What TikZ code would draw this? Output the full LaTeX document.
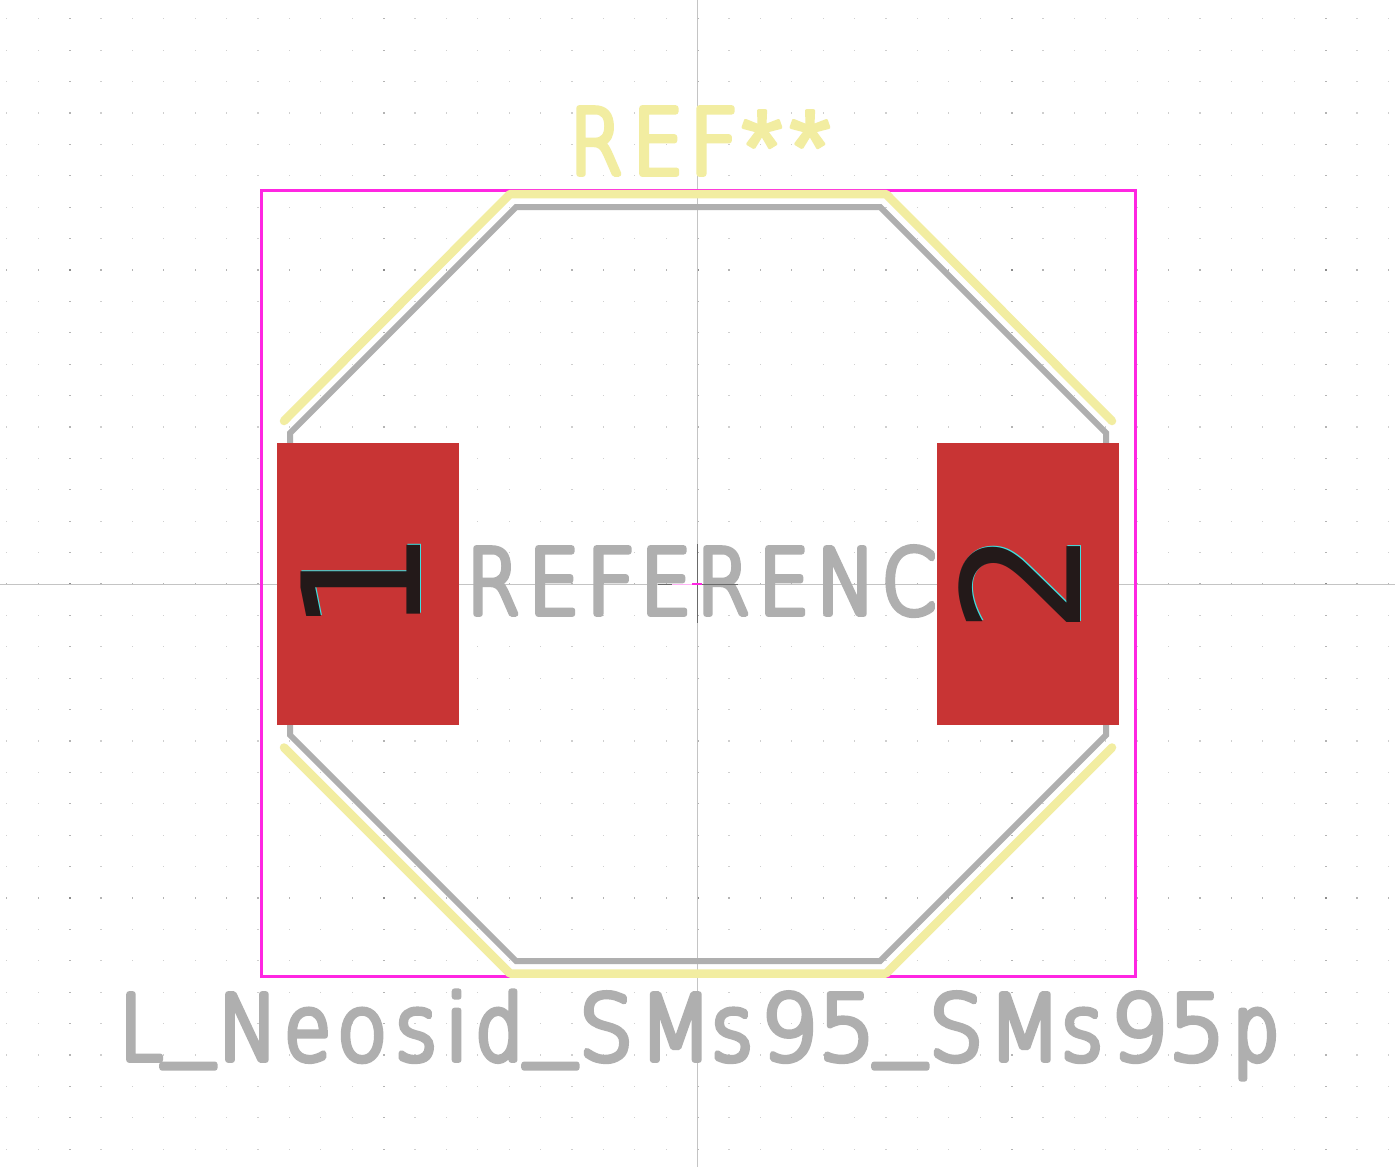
\documentclass[tikz,border=0pt]{standalone}
\usepackage{fontspec}
\newfontfamily\kfont{DejaVu Sans ExtraLight}[FakeBold=6.3]
\newfontfamily\starfont{Liberation Sans}[FakeBold=3]
\newfontfamily\padfont{DejaVu Sans}
\definecolor{silk}{HTML}{F2EDA1}
\definecolor{fab}{HTML}{AFAFAF}
\definecolor{court}{HTML}{FF26E2}
\definecolor{padred}{HTML}{C83434}
\definecolor{axisgray}{HTML}{C4C4C4}
\definecolor{dotgray}{HTML}{CFCFCF}
\definecolor{dotmid}{HTML}{B4B4B4}
\definecolor{dotdark}{HTML}{8C8C8C}
\definecolor{glyphdark}{HTML}{231919}
\definecolor{anchordark}{HTML}{6A6A6A}
\definecolor{padedge}{HTML}{40E0E0}
% #1 = x from the node origin, #2 = horizontal stretch, #3 = character
\newcommand{\ka}[3]{\rlap{\hspace*{\dimexpr#1pt-1.4pt\relax}\addfontfeature{FakeStretch=#2}\special{pdf:code 1 j 1 J}#3}}
\newcommand{\ku}[1]{\rlap{\hspace*{\dimexpr#1pt-0.4pt\relax}\raisebox{13.5pt}{\addfontfeature{FakeStretch=1.12}\_}}}
\newcommand{\ks}[1]{\rlap{\hspace*{#1pt}\raisebox{-9pt}{\starfont\fontsize{105}{105}\selectfont\special{pdf:code 1 j 1 J}*}}}
\tikzset{
  silkline/.style={draw=silk,line width=8.5pt,line cap=round,line join=round},
  fabline/.style={draw=fab,line width=6pt,line join=miter},
  padbox/.style={fill=padred,draw=none,minimum width=182pt,minimum height=282pt,inner sep=0pt},
  stroketext/.style={inner sep=0pt,outer sep=0pt,anchor=base west,
     font=\kfont\fontsize{90.5}{91}\selectfont},
  padnum/.style={inner sep=0pt,outer sep=0pt,rotate=90,anchor=base,
     font=\padfont\fontsize{164}{164}\selectfont}
}
\begin{document}
\begin{tikzpicture}[x=1pt,y=-1pt]
\useasboundingbox (0,0) rectangle (1395,1167);
\fill[white] (0,0) rectangle (1395,1167);
% grid
\foreach \i in {-22,...,22}{
  \foreach \j in {-18,...,18}{
    \pgfmathsetmacro{\gx}{697.5+\i*31.4}
    \pgfmathsetmacro{\gy}{584+\j*31.4}
    \pgfmathtruncatemacro{\mi}{mod(abs(\i),10)==0 ? 1 : 0}
    \pgfmathtruncatemacro{\mj}{mod(abs(\j),10)==0 ? 1 : 0}
    \pgfmathtruncatemacro{\both}{\mi+\mj}
    \ifnum\both=2
      \fill[dotdark] (\gx-1,\gy-1) rectangle (\gx+1,\gy+1);
    \else\ifnum\mi=1
      \fill[dotmid] (\gx-1,\gy-.6) rectangle (\gx+1,\gy+.6);
    \else\ifnum\mj=1
      \fill[dotmid] (\gx-.6,\gy-1) rectangle (\gx+.6,\gy+1);
    \else
      \fill[dotgray] (\gx-.6,\gy-.6) rectangle (\gx+.6,\gy+.6);
    \fi\fi\fi
  }
}
% axes
\draw[axisgray,line width=1pt] (697.5,0) -- (697.5,1167);
\draw[axisgray,line width=1pt] (0,584) -- (1395,584);
% courtyard
\draw[court,line width=3pt] (261.5,190.5) rectangle (1135.5,976.5);
% fab outline
\draw[fabline] (516,207) -- (880,207) -- (1106,433) -- (1106,735) -- (880,961) -- (516,961) -- (290,735) -- (290,433) -- cycle;
% fab text
\node[stroketext,text=fab] (fabref) at (465,614) {\ka{3.2}{.84}{R}\ka{64.6}{.90}{E}\ka{122}{.97}{F}\ka{176.6}{.90}{E}\ka{233.2}{.84}{R}\ka{294.6}{.90}{E}\ka{352.8}{.88}{N}\ka{418.2}{.86}{C}\hspace*{470pt}};
% silk
\draw[silkline] (284,421) -- (510,194) -- (886,194) -- (1112,421);
\draw[silkline] (284,747.5) -- (510,973.5) -- (886,973.5) -- (1112,747.5);
% silk ref
\node[stroketext,text=silk] (ref) at (565,174) {\ka{6.2}{.84}{R}\ka{68.6}{.90}{E}\ka{125}{.97}{F}\ks{176.5}\ks{224.5}\hspace*{265pt}};
% fab value
\node[stroketext,text=fab] (value) at (115,1060) {\ka{6.1}{.85}{L}\ku{48.5}\ka{104.8}{.88}{N}\ka{170.9}{.83}{e}\ka{223.6}{.90}{o}\ka{281.8}{.88}{s}\ka{330.8}{1}{i}\ka{361.9}{.83}{d}\ku{410.5}\ka{465.5}{.94}{S}\ka{525.5}{.94}{M}\ka{597.8}{.88}{s}\ka{647}{1}{9}\ka{704.5}{1}{5}\ku{760.5}\ka{815.5}{.94}{S}\ka{874.5}{.94}{M}\ka{947.8}{.88}{s}\ka{997}{1}{9}\ka{1054.5}{1}{5}\ka{1119.4}{.80}{p}\hspace*{1163pt}};
% pads
\node[padbox] (pad1) at (368,584) {};
\node[padbox] (pad2) at (1028,584) {};
% pad numbers
\node[padnum,text=padedge] at (421,581) {1};
\node[padnum,text=glyphdark] (num1) at (420,582) {1};
\node[padnum,text=padedge] at (1081,581) {2};
\node[padnum,text=glyphdark] (num2) at (1080,582) {2};
% anchor cross
\draw[anchordark,line width=1pt] (697.5,544) -- (697.5,623);
\draw[anchordark,line width=1pt] (658,584) -- (672,584);
\draw[anchordark,line width=1pt] (702,584) -- (738,584);
\draw[court!35!white,line width=1pt] (672,584) -- (692,584);
\draw[court,line width=1.5pt] (692,584) -- (702,584);
\end{tikzpicture}
\end{document}
